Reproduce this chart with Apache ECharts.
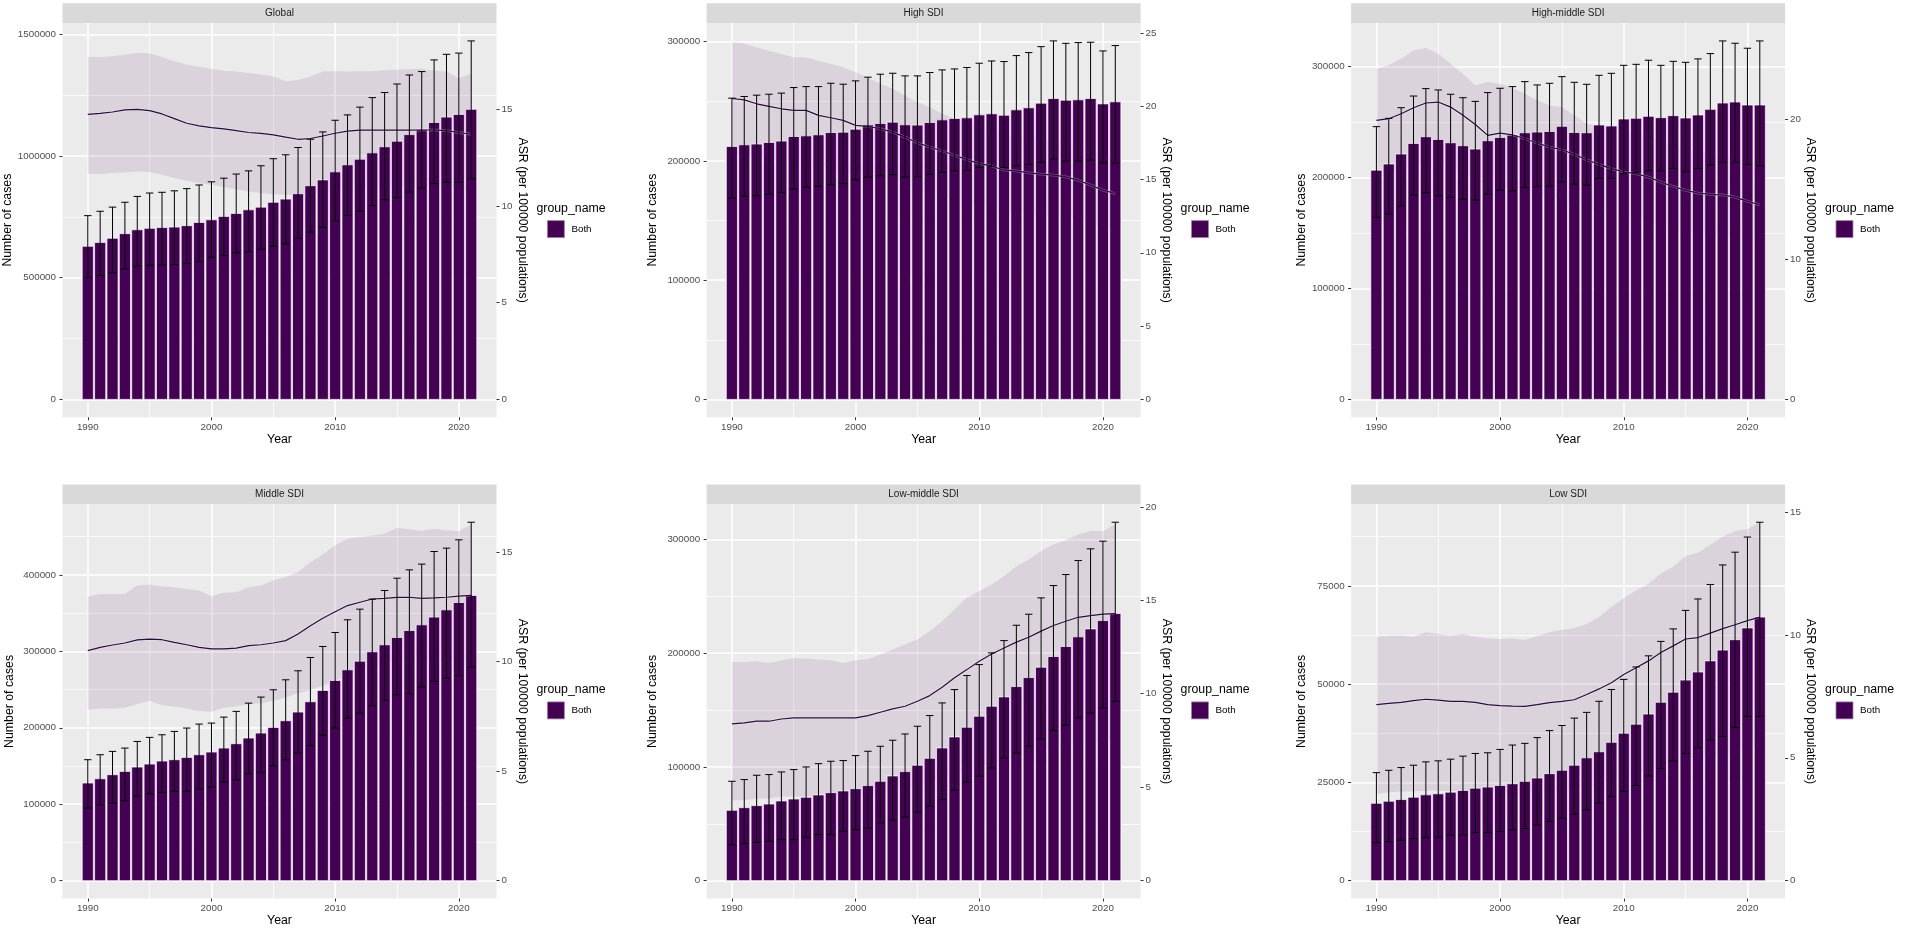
<!DOCTYPE html>
<html lang="en">
<head>
<meta charset="utf-8">
<title>Number of cases and ASR, 1990-2021</title>
<script src="https://cdn.jsdelivr.net/npm/echarts@6/dist/echarts.min.js"></script>
<style>
  html, body { margin: 0; padding: 0; background: #ffffff; }
  #main { width: 1907px; height: 929px; }
</style>
</head>
<body>
<div id="main"></div>
<script>
// ---- data ----
const years = [1990, 1991, 1992, 1993, 1994, 1995, 1996, 1997, 1998, 1999, 2000, 2001, 2002, 2003, 2004, 2005,
               2006, 2007, 2008, 2009, 2010, 2011, 2012, 2013, 2014, 2015, 2016, 2017, 2018, 2019, 2020, 2021];
const panelNames = ['Global', 'High SDI', 'High-middle SDI', 'Middle SDI', 'Low-middle SDI', 'Low SDI'];

// Global
const globalCases = [629000, 645000, 662000, 681000, 697000, 703000, 706000, 708000, 714000, 727000, 738000, 752000, 764000, 779000, 790000, 810000,
                     823000, 845000, 878000, 902000, 935000, 964000, 987000, 1013000, 1038000, 1061000, 1088000, 1110000, 1138000, 1160000, 1171000, 1192000];
const globalUp = [755000, 773000, 790000, 810000, 834000, 848000, 851000, 857000, 866000, 881000, 894000, 909000, 926000, 939000, 960000, 989000,
                  1005000, 1035000, 1069000, 1099000, 1147000, 1169000, 1201000, 1240000, 1261000, 1296000, 1333000, 1347000, 1395000, 1418000, 1423000, 1473000];
const globalLow = [499000, 509000, 520000, 536000, 547000, 551000, 552000, 554000, 558000, 566000, 584000, 591000, 602000, 607000, 617000, 629000,
                   639000, 662000, 688000, 707000, 734000, 756000, 773000, 796000, 820000, 829000, 852000, 868000, 887000, 892000, 892000, 907000];
const globalAsr = [14.74, 14.79, 14.86, 14.97, 15.0, 14.93, 14.76, 14.52, 14.28, 14.14, 14.05, 13.99, 13.90, 13.80, 13.76, 13.68,
                   13.56, 13.45, 13.49, 13.62, 13.76, 13.87, 13.92, 13.92, 13.92, 13.92, 13.92, 13.93, 13.93, 13.90, 13.80, 13.71];
const globalAsrUp = [17.72, 17.70, 17.74, 17.82, 17.93, 17.90, 17.70, 17.48, 17.32, 17.20, 17.10, 17.00, 16.95, 16.88, 16.80, 16.70,
                     16.45, 16.52, 16.70, 16.95, 16.97, 16.95, 16.97, 16.97, 17.02, 17.05, 17.07, 17.10, 17.00, 16.95, 16.60, 16.85];
const globalAsrLow = [11.65, 11.65, 11.70, 11.75, 11.78, 11.75, 11.61, 11.44, 11.30, 11.18, 11.10, 10.98, 10.87, 10.75, 10.67, 10.61,
                      10.58, 10.58, 10.6, 10.7, 10.8, 10.9, 10.9, 11.0, 11.0, 11.0, 11.0, 11.0, 11.0, 10.9, 10.8, 10.8];

// High SDI
const highCases = [212100, 213500, 214100, 215500, 216600, 220500, 221000, 221900, 223800, 224100, 226600, 230300, 231400, 232500, 230300, 230000,
                   232200, 234400, 235600, 236100, 238600, 239500, 238300, 242800, 244500, 248400, 252300, 250900, 251200, 252300, 247800, 249500];
const highUp = [252600, 254000, 255100, 255900, 256800, 261500, 262300, 262300, 265100, 264300, 267100, 270200, 272700, 273500, 271300, 271300,
                274100, 276300, 277100, 278300, 281900, 283800, 283300, 288300, 290800, 295800, 300600, 298600, 299200, 299500, 292200, 296700];
const highLow = [168800, 170200, 170800, 172200, 173600, 176400, 177800, 178600, 180000, 180900, 184200, 186400, 187500, 188400, 186400, 186700,
                 188900, 190300, 191700, 192000, 194500, 195400, 194500, 195900, 197000, 198700, 201500, 199800, 199800, 200700, 198200, 198200];
const highAsr = [20.52, 20.43, 20.16, 19.98, 19.82, 19.71, 19.71, 19.37, 19.21, 19.03, 18.69, 18.62, 18.46, 18.23, 17.89, 17.49,
                 17.21, 16.94, 16.65, 16.35, 16.08, 15.92, 15.63, 15.58, 15.45, 15.36, 15.29, 15.17, 14.95, 14.61, 14.27, 14.04];
const highAsrUp = [24.35, 24.28, 24.0, 23.78, 23.56, 23.33, 23.33, 23.1, 22.88, 22.65, 22.31, 21.93, 21.52, 21.18, 20.72, 20.27,
                   19.93, 19.48, 19.14, 18.9, 18.6, 18.4, 18.1, 18.0, 17.9, 17.8, 17.7, 17.6, 17.4, 17.0, 16.7, 16.4];
const highAsrLow = [16.8, 16.7, 16.5, 16.4, 16.3, 16.2, 16.2, 15.9, 15.8, 15.6, 15.3, 15.3, 15.1, 14.9, 14.7, 14.3,
                    14.1, 13.9, 13.7, 13.4, 13.2, 13.1, 12.8, 12.8, 12.7, 12.6, 12.5, 12.4, 12.3, 12.0, 11.7, 11.5];

// High-middle SDI
const hmCases = [206700, 212200, 221200, 230800, 236800, 234400, 231400, 228700, 225700, 233200, 236200, 238300, 240400, 241000, 241600, 246200,
                 240700, 240400, 247400, 246500, 252800, 253400, 255200, 254000, 255800, 253700, 256400, 261500, 267200, 268100, 265400, 265400];
const hmUp = [245900, 253400, 263000, 273500, 280200, 279000, 275100, 272000, 268700, 276600, 280500, 282000, 286500, 283500, 285000, 291000,
              285900, 284100, 292200, 294000, 301200, 302100, 305800, 301200, 304800, 303900, 307000, 311800, 323200, 321100, 316600, 323200];
const hmLow = [164000, 167000, 174500, 184200, 186300, 183600, 182100, 180300, 179700, 185100, 188700, 188100, 191100, 191700, 192300, 195900,
               194100, 193200, 199200, 199200, 203700, 204300, 206100, 206100, 208200, 205200, 208200, 211200, 213700, 213700, 211900, 210400];
const hmAsr = [19.93, 20.05, 20.40, 20.83, 21.17, 21.24, 20.88, 20.29, 19.64, 18.86, 19.02, 18.90, 18.62, 18.31, 18.02, 17.83,
               17.50, 17.12, 16.79, 16.48, 16.24, 16.12, 15.88, 15.52, 15.21, 14.93, 14.74, 14.64, 14.60, 14.45, 14.14, 13.90];
const hmAsrUp = [23.62, 23.86, 24.33, 24.93, 25.1, 24.69, 23.98, 23.26, 22.43, 22.67, 22.55, 22.26, 21.83, 21.36, 21.0, 20.88,
                 20.29, 19.69, 19.5, 19.3, 19.1, 19.0, 18.8, 18.5, 18.2, 17.9, 17.7, 17.6, 17.5, 17.3, 17.0, 16.8];
const hmAsrLow = [15.9, 16.0, 16.3, 16.7, 16.9, 17.0, 16.7, 16.2, 15.7, 15.1, 15.2, 15.1, 14.9, 14.6, 14.4, 14.3,
                  14.0, 13.7, 13.4, 13.2, 13.0, 12.9, 12.7, 12.4, 12.2, 11.9, 11.8, 11.7, 11.7, 11.6, 11.3, 11.1];

// Middle SDI
const midCases = [127700, 133300, 138600, 142900, 148600, 152500, 156400, 158200, 161200, 164700, 168200, 173400, 179100, 186500, 193000, 200400,
                  209200, 220500, 234000, 248800, 261900, 275800, 287100, 299300, 308500, 318100, 327200, 334600, 344700, 354200, 363800, 373000];
const midUp = [158200, 164700, 169100, 173400, 182100, 187400, 190800, 195200, 199600, 204800, 206100, 213900, 221400, 232200, 240100, 249700,
               262700, 274500, 291900, 306300, 324600, 341200, 355100, 368200, 379500, 395600, 406500, 414000, 430500, 434900, 445800, 468800];
const midLow = [95000, 99300, 101500, 104600, 110200, 113700, 115500, 116800, 116800, 119800, 122400, 129000, 132000, 139900, 141600, 150300,
                158200, 166900, 176500, 190000, 199600, 212600, 219200, 228800, 235700, 243100, 244400, 253200, 260600, 264900, 268000, 279300];
const midAsr = [10.50, 10.65, 10.76, 10.85, 10.99, 11.03, 11.00, 10.88, 10.77, 10.65, 10.58, 10.58, 10.62, 10.73, 10.77, 10.85,
                10.96, 11.26, 11.64, 11.98, 12.28, 12.56, 12.71, 12.86, 12.89, 12.93, 12.94, 12.89, 12.91, 12.94, 12.99, 13.02];
const midAsrUp = [12.97, 13.09, 13.09, 13.09, 13.47, 13.52, 13.43, 13.40, 13.32, 13.25, 12.99, 13.14, 13.17, 13.40, 13.47, 13.70,
                  13.86, 14.09, 14.54, 14.88, 15.31, 15.61, 15.69, 15.76, 15.84, 16.10, 16.04, 15.96, 16.07, 15.99, 15.96, 16.25];
const midAsrLow = [7.80, 7.86, 7.86, 7.89, 8.06, 8.21, 8.01, 7.95, 7.86, 7.75, 7.71, 7.90, 7.95, 8.06, 8.10, 8.21,
                   8.36, 8.56, 8.7, 8.9, 9.1, 9.4, 9.6, 9.8, 9.9, 10.0, 10.0, 10.0, 10.0, 10.0, 10.1, 10.1];

// Low-middle SDI
const lmCases = [61900, 64200, 66000, 67400, 70100, 71800, 73300, 75400, 77400, 78900, 80900, 83600, 87400, 92100, 95900, 101500,
                 107600, 116700, 126400, 134900, 144600, 153400, 161600, 170700, 178600, 187700, 197100, 205900, 214400, 221400, 228700, 234900];
const lmUp = [87400, 88900, 92700, 93300, 95600, 97700, 100000, 102900, 105000, 105600, 110000, 113800, 118200, 123500, 129000, 135800,
              145200, 156300, 168000, 180400, 190000, 200300, 211100, 224600, 234300, 248700, 259500, 269200, 281500, 291800, 298500, 315200];
const lmLow = [31700, 32600, 33700, 34600, 36100, 36100, 38100, 40500, 40500, 43400, 44900, 46300, 50700, 53100, 56000, 60100,
               65400, 71300, 79500, 86500, 91800, 99100, 107900, 112300, 118200, 124600, 132000, 136700, 143100, 147500, 151900, 157800];
const lmAsr = [8.39, 8.44, 8.53, 8.53, 8.65, 8.71, 8.71, 8.71, 8.71, 8.71, 8.71, 8.83, 9.01, 9.19, 9.33, 9.60,
               9.90, 10.35, 10.85, 11.29, 11.74, 12.13, 12.45, 12.76, 13.02, 13.35, 13.65, 13.88, 14.09, 14.18, 14.26, 14.29];
const lmAsrUp = [11.70, 11.70, 11.74, 11.65, 11.79, 11.90, 11.88, 11.83, 11.79, 11.65, 11.79, 11.86, 12.10, 12.36, 12.63, 12.90,
                 13.35, 13.88, 14.50, 15.13, 15.49, 15.84, 16.29, 16.82, 17.18, 17.63, 17.98, 18.22, 18.52, 18.70, 18.70, 19.05];
const lmAsrLow = [4.3, 4.3, 4.4, 4.4, 4.5, 4.5, 4.5, 4.5, 4.5, 4.5, 4.5, 4.6, 4.7, 4.8, 4.9, 5.0,
                  5.2, 5.4, 5.7, 5.9, 6.1, 6.3, 6.5, 6.6, 6.8, 6.9, 7.1, 7.2, 7.3, 7.4, 7.4, 7.4];

// Low SDI
const lowCases = [19690, 20210, 20630, 21230, 21830, 22090, 22520, 22950, 23540, 23800, 24230, 24660, 25260, 26110, 27230, 28080,
                  29370, 31250, 32790, 35190, 37500, 39810, 42380, 45380, 47950, 51030, 53080, 55910, 58650, 61300, 64300, 67040];
const lowUp = [27480, 28080, 28770, 29370, 30220, 30480, 30910, 31680, 32360, 32530, 33390, 34500, 34930, 36390, 38180, 39470,
               41350, 42810, 45630, 48630, 51200, 54370, 57190, 60870, 64040, 68750, 71660, 75340, 80310, 83560, 87410, 91180];
const lowLow = [9670, 9930, 10270, 10700, 10960, 11130, 11560, 11640, 12240, 12240, 12500, 12930, 13270, 14210, 15070, 15840,
                16950, 18070, 19690, 21400, 22690, 24230, 26630, 28510, 30480, 32360, 33820, 35790, 36640, 38960, 41780, 41780];
const lowAsr = [7.16, 7.21, 7.25, 7.32, 7.38, 7.34, 7.29, 7.29, 7.25, 7.16, 7.12, 7.10, 7.09, 7.16, 7.24, 7.29,
                7.36, 7.57, 7.80, 8.05, 8.39, 8.66, 8.94, 9.28, 9.55, 9.83, 9.89, 10.07, 10.25, 10.41, 10.58, 10.72];
const lowAsrUp = [9.92, 9.96, 9.96, 9.92, 10.10, 10.03, 9.96, 10.03, 9.92, 9.85, 9.83, 9.85, 9.80, 9.94, 10.10, 10.21,
                  10.28, 10.44, 10.72, 11.13, 11.50, 11.81, 12.08, 12.49, 12.77, 13.21, 13.34, 13.66, 14.00, 14.21, 14.30, 14.58];
const lowAsrLow = [3.53, 3.60, 3.63, 3.63, 3.67, 3.66, 3.65, 3.66, 3.64, 3.60, 3.58, 3.57, 3.56, 3.60, 3.64, 3.67,
                   3.70, 3.80, 3.92, 4.05, 4.22, 4.36, 4.50, 4.67, 4.80, 4.95, 4.98, 5.07, 5.16, 5.24, 5.33, 5.40];

// tick labels
const yearTicks = [1990, 2000, 2010, 2020];
const yearMinor = [1995, 2005, 2015];
const leftTicks = [
  [0, 500000, 1000000, 1500000],
  [0, 100000, 200000, 300000],
  [0, 100000, 200000, 300000],
  [0, 100000, 200000, 300000, 400000],
  [0, 100000, 200000, 300000],
  [0, 25000, 50000, 75000]
];
const rightTicks = [
  [0, 5, 10, 15],
  [0, 5, 10, 15, 20, 25],
  [0, 10, 20],
  [0, 5, 10, 15],
  [0, 5, 10, 15, 20],
  [0, 5, 10, 15]
];

const panels = [
  { cases: globalCases, up: globalUp, low: globalLow, asr: globalAsr, asrUp: globalAsrUp, asrLow: globalAsrLow },
  { cases: highCases, up: highUp, low: highLow, asr: highAsr, asrUp: highAsrUp, asrLow: highAsrLow },
  { cases: hmCases, up: hmUp, low: hmLow, asr: hmAsr, asrUp: hmAsrUp, asrLow: hmAsrLow },
  { cases: midCases, up: midUp, low: midLow, asr: midAsr, asrUp: midAsrUp, asrLow: midAsrLow },
  { cases: lmCases, up: lmUp, low: lmLow, asr: lmAsr, asrUp: lmAsrUp, asrLow: lmAsrLow },
  { cases: lowCases, up: lowUp, low: lowLow, asr: lowAsr, asrUp: lowAsrUp, asrLow: lowAsrLow }
];

// ---- layout / style ----
const FONT = '"Liberation Sans", Arial, Helvetica, sans-serif';
const BAR = '#440154';
const colLeft = [62.5, 706.6, 1351.1];
const rowTop = [23, 504.3];
const PANEL_W = 434;
const PANEL_H = 394.3;
const STRIP_H = 19.7;
const leftNameGap = [47, 48, 43];

// x scale like ggplot: bars of width 0.9 plus 5% expansion
const xLo = years[0] - 0.45, xHi = years[years.length - 1] + 0.45;
const xMin = xLo - 0.05 * (xHi - xLo), xMax = xHi + 0.05 * (xHi - xLo);

const grids = [], xAxes = [], yAxes = [], series = [], legends = [], graphics = [];

panels.forEach((p, i) => {
  const col = i % 3, row = Math.floor(i / 3);
  const left = colLeft[col], top = rowTop[row];
  const right = left + PANEL_W;

  // secondary axis factor, as used to overlay ASR on the case counts
  const k = Math.max(...p.cases) / Math.max(...p.asr);
  const R = Math.max(Math.max(...p.up), Math.max(...p.asrUp) * k);
  const yMin = -0.05 * R, yMax = 1.05 * R;
  const step = leftTicks[i][1] - leftTicks[i][0];
  const minorY = leftTicks[i].map(t => t + step / 2).filter(v => v < yMax);

  grids.push({ left: left, top: top, width: PANEL_W, height: PANEL_H, show: true,
               backgroundColor: '#EBEBEB', borderWidth: 0 });

  const tickText = { fontFamily: FONT, fontSize: 9.8, color: '#4D4D4D' };
  const titleText = { fontFamily: FONT, fontSize: 12.3, color: '#000000' };

  xAxes.push({
    type: 'value', gridIndex: i, min: xMin, max: xMax, position: 'bottom',
    name: 'Year', nameLocation: 'middle', nameGap: 16, nameTextStyle: titleText,
    axisLine: { show: false, onZero: false },
    axisTick: { show: true, length: 3, lineStyle: { color: '#333333', width: 1 }, customValues: yearTicks },
    axisLabel: Object.assign({ customValues: yearTicks, margin: 5, formatter: v => String(v) }, tickText),
    splitLine: { show: true, lineStyle: { color: '#ffffff', width: 1.5 } }
  });
  xAxes.push({
    type: 'value', gridIndex: i, min: xMin, max: xMax, position: 'top',
    axisLine: { show: false, onZero: false },
    axisTick: { show: false, customValues: yearMinor },
    axisLabel: { show: false },
    splitLine: { show: true, lineStyle: { color: '#ffffff', width: 0.75 } }
  });

  yAxes.push({
    type: 'value', gridIndex: i, min: yMin, max: yMax, position: 'left',
    name: 'Number of cases', nameLocation: 'middle', nameGap: leftNameGap[col], nameRotate: 90,
    nameTextStyle: titleText,
    axisLine: { show: false, onZero: false },
    axisTick: { show: true, length: 3, lineStyle: { color: '#333333', width: 1 }, customValues: leftTicks[i] },
    axisLabel: Object.assign({ customValues: leftTicks[i], margin: 6.5, formatter: v => String(v) }, tickText),
    splitLine: { show: true, lineStyle: { color: '#ffffff', width: 1.5 } }
  });
  yAxes.push({
    type: 'value', gridIndex: i, min: yMin / k, max: yMax / k, position: 'right',
    name: 'ASR (per 100000 populations)', nameLocation: 'middle', nameGap: 10, nameRotate: -90,
    nameTextStyle: titleText,
    axisLine: { show: false, onZero: false },
    axisTick: { show: true, length: 3, lineStyle: { color: '#333333', width: 1 }, customValues: rightTicks[i] },
    axisLabel: Object.assign({ customValues: rightTicks[i], margin: 5, formatter: v => String(v) }, tickText),
    splitLine: { show: false }
  });
  yAxes.push({
    type: 'value', gridIndex: i, min: yMin, max: yMax, position: 'left',
    axisLine: { show: false, onZero: false },
    axisTick: { show: false, customValues: minorY },
    axisLabel: { show: false },
    splitLine: { show: true, lineStyle: { color: '#ffffff', width: 0.75 } }
  });

  const xi = 2 * i, yl = 3 * i, yr = 3 * i + 1;

  // uncertainty ribbon of ASR, one polygon through the axis scale
  series.push({
    name: 'ribbon' + i, type: 'custom', xAxisIndex: xi, yAxisIndex: yr,
    data: years.map((y, j) => [y, p.asrLow[j], p.asrUp[j]]),
    encode: { x: 0, y: [1, 2] }, silent: true, z: 2,
    renderItem: (params, api) => {
      if (params.dataIndex !== 0) return null;
      const pts = [];
      years.forEach((y, j) => pts.push(api.coord([y, p.asrUp[j]])));
      for (let j = years.length - 1; j >= 0; j--) pts.push(api.coord([years[j], p.asrLow[j]]));
      return { type: 'polygon', shape: { points: pts }, style: { fill: 'rgba(68,1,84,0.10)' } };
    }
  });

  // bars: number of cases
  series.push({
    name: 'Both', type: 'custom', xAxisIndex: xi, yAxisIndex: yl,
    data: years.map((y, j) => [y, p.cases[j]]),
    itemStyle: { color: BAR },
    z: 3,
    renderItem: (params, api) => {
      const x = api.value(0), v = api.value(1);
      const a = api.coord([x - 0.45, v]);
      const b = api.coord([x + 0.45, 0]);
      return {
        type: 'rect',
        shape: { x: a[0], y: a[1], width: b[0] - a[0], height: b[1] - a[1] },
        style: { fill: BAR, stroke: '#ffffff', lineWidth: 0.7 }
      };
    }
  });

  // ASR line (with a faint light edge so it reads on top of the bars)
  series.push({
    name: 'asrHalo' + i, type: 'line', xAxisIndex: xi, yAxisIndex: yr,
    data: years.map((y, j) => [y, p.asr[j]]), symbol: 'none', silent: true,
    lineStyle: { color: 'rgba(255,255,255,0.25)', width: 2.8 }, z: 4
  });
  series.push({
    name: 'asr' + i, type: 'line', xAxisIndex: xi, yAxisIndex: yr,
    data: years.map((y, j) => [y, p.asr[j]]), symbol: 'none', silent: true,
    lineStyle: { color: '#2c0a3a', width: 1.2 }, z: 5
  });

  // error bars of case counts
  series.push({
    name: 'err' + i, type: 'custom', xAxisIndex: xi, yAxisIndex: yl,
    data: years.map((y, j) => [y, p.low[j], p.up[j]]),
    encode: { x: 0, y: [1, 2] }, silent: true, z: 6,
    renderItem: (params, api) => {
      const x = api.value(0);
      const hi = api.coord([x, api.value(2)]);
      const lo = api.coord([x, api.value(1)]);
      const l = api.coord([x - 0.3, 0])[0], r = api.coord([x + 0.3, 0])[0];
      const st = { stroke: '#000000', lineWidth: 1 };
      return {
        type: 'group',
        children: [
          { type: 'line', shape: { x1: hi[0], y1: hi[1], x2: lo[0], y2: lo[1] }, style: st },
          { type: 'line', shape: { x1: l, y1: hi[1], x2: r, y2: hi[1] }, style: st },
          { type: 'line', shape: { x1: l, y1: lo[1], x2: r, y2: lo[1] }, style: st }
        ]
      };
    }
  });

  // legend "group_name / Both"
  legends.push({
    data: ['Both'], left: right + 50.5, top: top + 197.2, orient: 'vertical', padding: 0,
    icon: 'rect', itemWidth: 17, itemHeight: 17, selectedMode: false,
    itemStyle: { color: BAR, borderColor: '#9b86a3', borderWidth: 0.8 },
    textStyle: { fontFamily: FONT, fontSize: 9.8, color: '#000000', padding: [0, 0, 0, 2] }
  });
  graphics.push({
    type: 'text', x: right + 40, y: top + 185.3,
    style: { text: 'group_name', fontFamily: FONT, fontSize: 12.3, fill: '#000000',
             textAlign: 'left', textVerticalAlign: 'middle' }
  });

  // facet strip
  graphics.push({
    type: 'rect', shape: { x: left, y: top - STRIP_H, width: PANEL_W, height: STRIP_H },
    style: { fill: '#D9D9D9' }, silent: true
  });
  graphics.push({
    type: 'text', x: left + PANEL_W / 2, y: top - STRIP_H / 2,
    style: { text: panelNames[i], fontFamily: FONT, fontSize: 10, fill: '#1A1A1A',
             textAlign: 'center', textVerticalAlign: 'middle' }, silent: true
  });
});

const chart = echarts.init(document.getElementById('main'), null, { renderer: 'canvas' });
chart.setOption({
  backgroundColor: '#ffffff',
  animation: false,
  grid: grids,
  xAxis: xAxes,
  yAxis: yAxes,
  legend: legends,
  graphic: graphics,
  series: series
});
</script>
</body>
</html>
